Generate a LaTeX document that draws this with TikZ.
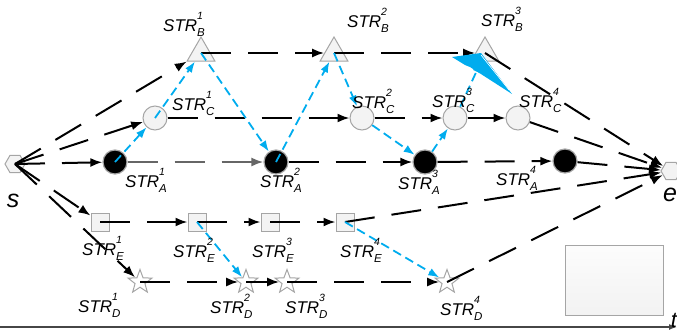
\documentclass[tikz,border=0pt]{standalone}
\usepackage{fontspec}
\setmainfont{Liberation Sans}
\usetikzlibrary{shapes.geometric,arrows.meta}

\definecolor{linkblue}{RGB}{0,172,238}
\definecolor{nodegray}{RGB}{165,165,165}
\definecolor{nodefill}{RGB}{243,243,243}
\definecolor{axisgray}{RGB}{70,70,70}

% STR label with stacked sub- and superscript
\newcommand{\strlbl}[2]{\textit{STR}\rlap{\raisebox{-5pt}{\fontsize{11.5}{11.5}\selectfont\textit{#1}}}\raisebox{11.5pt}{\fontsize{10.5}{10.5}\selectfont\textit{#2}}}

\tikzset{
  tri/.style={regular polygon, regular polygon sides=3, minimum size=32pt, inner sep=0pt,
    draw=nodegray, fill=nodefill, line width=1pt},
  hollow/.style={circle, minimum size=24pt, inner sep=0pt, draw=nodegray, fill=nodefill, line width=1pt},
  blackdot/.style={circle, minimum size=24pt, inner sep=0pt, draw=gray!70, fill=black, line width=1.2pt},
  sq/.style={rectangle, minimum size=18pt, inner sep=0pt, draw=nodegray, fill=nodefill, line width=1pt},
  starnode/.style={star, star points=5, star point ratio=2.4, minimum size=25pt, inner sep=0pt,
    draw=nodegray, fill=white, line width=1pt},
  hexa/.style={regular polygon, regular polygon sides=6, minimum size=20pt, inner sep=0pt,
    draw=nodegray, fill=nodefill, line width=1pt},
  flow/.style={line width=2pt, dash pattern=on 30pt off 17pt, -{Latex[length=12pt,width=9pt]}},
  link/.style={linkblue, line width=1.8pt, dash pattern=on 9pt off 5pt, -{Latex[length=11pt,width=8pt]}},
  lbl/.style={anchor=base west, inner sep=0pt, font=\fontsize{17}{17}\selectfont},
  endlbl/.style={anchor=base, inner sep=0pt, font=\fontsize{25}{25}\selectfont\itshape},
}

\begin{document}
\begin{tikzpicture}[x=1pt,y=-1pt]
\useasboundingbox (0,0) rectangle (677,335);

% start and end
\node[hexa] (s) at (15,164) {};
\node[hexa] (e) at (671,171) {};

% B row
\node[tri] (B1) at (201,53) {};
\node[tri] (B2) at (334,53) {};
\node[tri] (B3) at (485,53) {};
% C row
\node[hollow] (C1) at (155,118) {};
\node[hollow] (C2) at (362,118) {};
\node[hollow] (C3) at (455,118) {};
\node[hollow] (C4) at (518,118) {};
% A row
\node[blackdot] (A1) at (115,162) {};
\node[blackdot] (A2) at (276,162) {};
\node[blackdot] (A3) at (425,162) {};
\node[blackdot] (A4) at (565,161) {};
% E row
\node[sq] (E1) at (100,222) {};
\node[sq] (E2) at (197,222) {};
\node[sq] (E3) at (270,222) {};
\node[sq] (E4) at (345,222) {};
% D row
\node[starnode] (D1) at (140,282) {};
\node[starnode] (D2) at (246,282) {};
\node[starnode] (D3) at (287,282) {};
\node[starnode] (D4) at (447,282) {};

% empty box
\node[rectangle, minimum width=98pt, minimum height=70pt, draw=nodegray, line width=1pt,
      top color=gray!2, bottom color=gray!10] (box) at (614,280) {};

% time axis
\coordinate (t0) at (0,327);
\coordinate (t1) at (677,327);
\draw[axisgray, line width=1.5pt, -{Latex[length=8pt,width=6pt]}] (t0) -- (t1);

% flows from the start
\draw[flow] (s.center) -- (B1);
\draw[flow] (s.center) -- (C1);
\draw[flow] (s.center) -- (A1);
\draw[flow] (s.center) -- (E1);
\draw[flow] (s.center) -- (D1);

% B row flows
\draw[flow] (B1.center) -- (B2);
\draw[flow] (B2.center) -- (B3);
\draw[flow] (B3.center) -- (e);
% C row flows
\draw[flow] (C1) -- (C2);
\draw[flow] (C2) -- (C3);
\draw[flow, solid] (C3) -- (C4);
\draw[flow] (C4) -- (e);
% A row flows
\draw[flow, gray!80!black] (A1) -- (A2);
\draw[flow] (A2) -- (A3);
\draw[flow] (A3) -- (A4);
\draw[flow] (A4) -- (e);
% E row flows
\draw[flow] (E1.center) -- (E2);
\draw[flow] (E2.center) -- (E3);
\draw[flow] (E3.center) -- (E4);
\draw[flow] (E4.center) -- (e);
% D row flows
\draw[flow] (D1.center) -- (D2);
\draw[flow] (D2.center) -- (D3);
\draw[flow] (D3.center) -- (D4);
\draw[flow] (D4.center) -- (e);

% cross links
\draw[link] (A1.center) -- (C1);
\draw[link] (C1.center) -- (B1);
\draw[link] (B1.center) -- (A2);
\draw[link] (A2.center) -- (B2);
\draw[link] (B2.center) -- (C2);
\draw[link] (C2) -- (A3);
\draw[link] (A3) -- (C3);
\draw[link] (C3) -- (B3);
\draw[link] (E2.center) -- (D2);
\draw[link] (E4.center) -- (D4);
% wide wedge between C4 and B3
\fill[linkblue] (452,57) -- (481,53) -- (512,94) -- (470,67) -- (465,65) -- cycle;
\draw[white, line width=0.6pt] (481,55) -- (509,90);

% labels
\node[lbl] (lB1) at (163,31) {\strlbl{B}{1}};
\node[lbl] (lB2) at (347,27) {\strlbl{B}{2}};
\node[lbl] (lB3) at (481,26) {\strlbl{B}{3}};
\node[lbl] (lC1) at (172,110) {\strlbl{C}{1}};
\node[lbl] (lC2) at (352,108) {\strlbl{C}{2}};
\node[lbl] (lC3) at (432,107) {\strlbl{C}{3}};
\node[lbl] (lC4) at (519,107) {\strlbl{C}{4}};
\node[lbl] (lA1) at (125,187) {\strlbl{A}{1}};
\node[lbl] (lA2) at (260,187) {\strlbl{A}{2}};
\node[lbl] (lA3) at (398,189) {\strlbl{A}{3}};
\node[lbl] (lA4) at (496,185) {\strlbl{A}{4}};
\node[lbl] (lE1) at (82,255) {\strlbl{E}{1}};
\node[lbl] (lE2) at (173,257) {\strlbl{E}{2}};
\node[lbl] (lE3) at (252,257) {\strlbl{E}{3}};
\node[lbl] (lE4) at (340,257) {\strlbl{E}{4}};
\node[lbl] (lD1) at (78,312) {\strlbl{D}{1}};
\node[lbl] (lD2) at (210,313) {\strlbl{D}{2}};
\node[lbl] (lD3) at (285,313) {\strlbl{D}{3}};
\node[lbl] (lD4) at (440,315) {\strlbl{D}{4}};

\node[endlbl] (ls) at (13,207) {s};
\node[endlbl] (le) at (670,201) {e};
\node[endlbl, font=\fontsize{22}{22}\selectfont\itshape] (lt) at (674,327) {t};
\end{tikzpicture}
\end{document}
